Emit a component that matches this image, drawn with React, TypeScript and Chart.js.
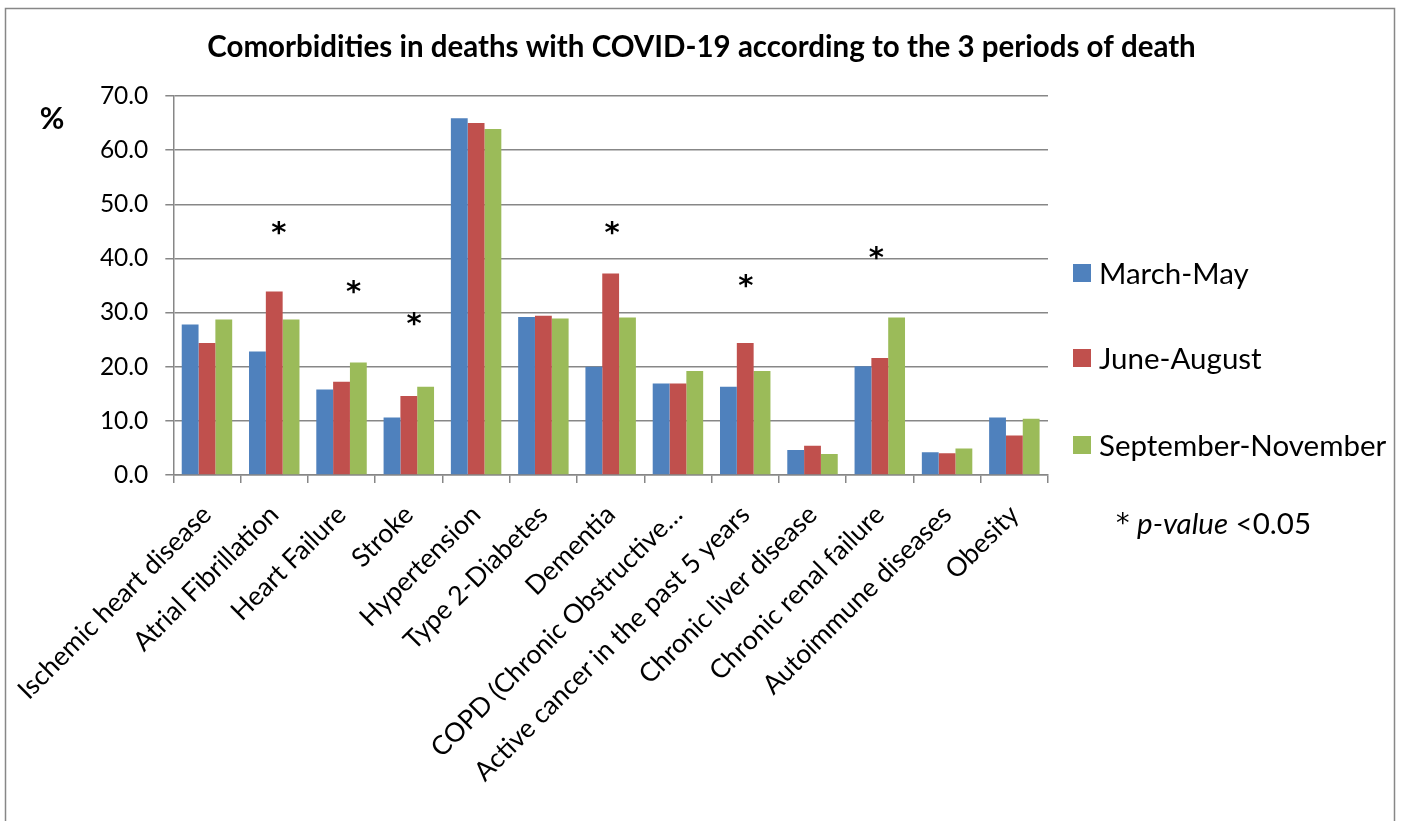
import { useEffect, useRef } from "react";
import { Chart, registerables } from "chart.js";

Chart.register(...registerables);

const FONT = "Lato, 'Open Sans', sans-serif";
const STAR_FONT = "'DejaVu Sans', sans-serif";

const chartTitle = "Comorbidities in deaths with COVID-19 according to the 3 periods of death";

const categories = [
  "Ischemic heart disease",
  "Atrial Fibrillation",
  "Heart Failure",
  "Stroke",
  "Hypertension",
  "Type 2-Diabetes",
  "Dementia",
  "COPD (Chronic Obstructive…",
  "Active cancer in the past 5 years",
  "Chronic liver disease",
  "Chronic renal failure",
  "Autoimmune diseases",
  "Obesity",
];

const marchMay = [27.8, 22.8, 15.8, 10.6, 65.9, 29.2, 20.0, 16.9, 16.3, 4.6, 20.1, 4.2, 10.6];
const juneAugust = [24.4, 33.9, 17.2, 14.6, 65.0, 29.4, 37.2, 16.9, 24.4, 5.4, 21.6, 4.0, 7.3];
const septemberNovember = [28.7, 28.7, 20.8, 16.3, 63.9, 28.9, 29.1, 19.2, 19.2, 3.9, 29.1, 4.9, 10.4];

const seriesNames = ["March-May", "June-August", "September-November"];
const seriesColors = ["#4F81BD", "#C0504D", "#9BBB59"];

// significance markers: fractional category position and value height
const asteriskPositions = [1.07, 2.18, 3.08, 6.02, 8.01, 9.95];
const asteriskValues = [45.8, 35.0, 29.1, 45.8, 36.1, 41.3];

const yTicks = [0, 10, 20, 30, 40, 50, 60, 70];

const overlayPlugin = {
  id: "overlay",
  afterDraw(chart: any) {
    const ctx = chart.ctx as CanvasRenderingContext2D;
    const xs = chart.scales.x;
    const ys = chart.scales.y;
    ctx.save();

    // outer frame
    ctx.strokeStyle = "#878787";
    ctx.lineWidth = 1.5;
    ctx.strokeRect(5.5, 8.5, 1389, 840);

    // title
    ctx.fillStyle = "#000";
    ctx.font = `bold 29.5px ${FONT}`;
    ctx.textAlign = "center";
    ctx.textBaseline = "middle";
    ctx.fillText(chartTitle, 701.5, 47);

    // % label
    ctx.font = `bold 30px ${FONT}`;
    ctx.fillText("%", 52, 119);

    // asterisks
    const starSize = 29;
    ctx.font = `bold ${starSize}px ${STAR_FONT}`;
    ctx.textBaseline = "alphabetic";
    asteriskPositions.forEach((p, i) => {
      const px = xs.getPixelForValue(p);
      const py = ys.getPixelForValue(asteriskValues[i]);
      ctx.fillText("*", px, py + starSize * 0.53);
    });

    // legend
    const legendX = 1073;
    const legendYs = [273, 358, 445];
    ctx.textAlign = "left";
    ctx.textBaseline = "middle";
    ctx.font = `29.5px ${FONT}`;
    chart.data.datasets.forEach((ds: any, i: number) => {
      const cy = legendYs[i];
      ctx.fillStyle = ds.backgroundColor;
      ctx.fillRect(legendX, cy - 9, 18, 18);
      ctx.fillStyle = "#000";
      ctx.fillText(ds.label, legendX + 26, cy + 1);
    });

    // p-value note
    let nx = 1116;
    const base = 534;
    ctx.textBaseline = "alphabetic";
    ctx.font = `27px ${STAR_FONT}`;
    ctx.fillText("*", nx, base - 2);
    nx += ctx.measureText("*").width;
    ctx.font = `29.5px ${FONT}`;
    nx += ctx.measureText(" ").width;
    ctx.font = `italic 29.5px ${FONT}`;
    ctx.fillText("p-value", nx, base);
    nx += ctx.measureText("p-value").width;
    ctx.font = `29.5px ${FONT}`;
    ctx.fillText(" <0.05", nx, base);

    ctx.restore();
  },
};

export default function App() {
  const ref = useRef<HTMLCanvasElement | null>(null);

  useEffect(() => {
    if (!ref.current) return;
    const chart = new Chart(ref.current, {
      type: "bar",
      data: {
        labels: categories,
        datasets: [marchMay, juneAugust, septemberNovember].map((d, i) => ({
          label: seriesNames[i],
          data: d,
          backgroundColor: seriesColors[i],
          borderWidth: 0,
          categoryPercentage: 0.75,
          barPercentage: 1.0,
        })),
      },
      options: {
        responsive: false,
        animation: false,
        devicePixelRatio: 1,
        layout: { padding: { left: 0, right: 355, top: 96, bottom: 0 } },
        plugins: {
          legend: { display: false },
          tooltip: { enabled: false },
          title: { display: false },
        },
        scales: {
          x: {
            grid: {
              drawOnChartArea: false,
              drawTicks: true,
              tickLength: 8,
              color: "#878787",
              lineWidth: 1.5,
            },
            border: { color: "#878787", width: 1.5 },
            ticks: {
              color: "#000",
              font: { family: FONT, size: 26.5 },
              minRotation: 45,
              maxRotation: 45,
              autoSkip: false,
              padding: 16,
            },
            afterFit: (s: any) => {
              s.height = 346;
            },
          },
          y: {
            min: 0,
            max: 70,
            afterBuildTicks: (s: any) => {
              s.ticks = yTicks.map((v) => ({ value: v }));
            },
            grid: {
              color: "#878787",
              lineWidth: 1.5,
              tickLength: 8,
            },
            border: { color: "#878787", width: 1.5 },
            ticks: {
              color: "#000",
              font: { family: FONT, size: 24.5 },
              padding: 17,
              callback: (v: any) => Number(v).toFixed(1),
            },
            afterFit: (s: any) => {
              s.width = 172;
            },
          },
        },
      },
      plugins: [overlayPlugin],
    });
    return () => chart.destroy();
  }, []);

  return (
    <div style={{ position: "absolute", left: 0, top: 0, width: 1403, height: 821, background: "#fff" }}>
      <canvas ref={ref} width={1403} height={821} style={{ width: 1403, height: 821, display: "block" }} />
    </div>
  );
}
